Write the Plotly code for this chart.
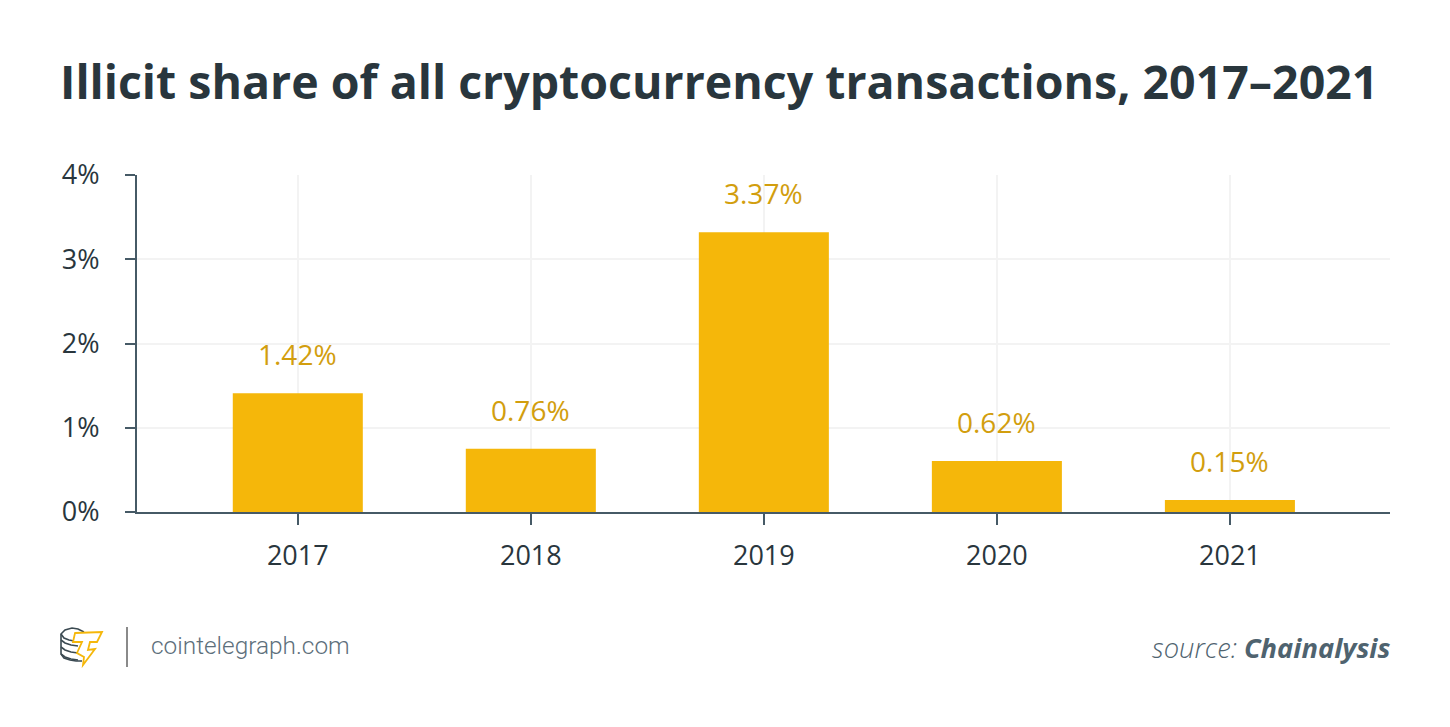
import plotly.graph_objects as go

years = [2017, 2018, 2019, 2020, 2021]
bar_values = [1.41, 0.75, 3.32, 0.605, 0.142]
bar_labels = ['1.42%', '0.76%', '3.37%', '0.62%', '0.15%']
y_ticks = [0, 1, 2, 3, 4]
y_tick_labels = ['0%', '1%', '2%', '3%', '4%']

W, H = 1450, 727
LEFT, RIGHT, TOP, BOTTOM = 137, 60, 175, 215
AXIS = '#465a66'
GRID = '#f3f3f3'
DARK = '#29363d'
GOLD = '#f5b70a'
LABEL = '#d29e0e'


# paper coordinates run over the plot area, so convert from page pixels
def px(x):
    return (x - LEFT) / (W - LEFT - RIGHT)


def py(y):
    return (H - BOTTOM - y) / (H - TOP - BOTTOM)


def path(points, close=False):
    # logo outline, given in page pixels
    s = 'M ' + ' L '.join(f'{px(x):.5f},{py(y):.5f}' for x, y in points)
    return s + (' Z' if close else '')


fig = go.Figure(go.Bar(
    x=years,
    y=bar_values,
    width=0.558,
    marker_color=GOLD,
    marker_line_width=0,
    hoverinfo='skip',
))

# value labels sit a fixed distance above each bar
for year, value, label in zip(years, bar_values, bar_labels):
    fig.add_annotation(x=year, y=value, text=label, showarrow=False,
                       yshift=39, yanchor='middle',
                       font=dict(family='Open Sans', size=28, color=LABEL))

# title and footer
fig.add_annotation(xref='paper', yref='paper', x=px(58), y=py(81), xanchor='left', yanchor='middle',
                   text='<b>Illicit share of all cryptocurrency transactions, 2017–2021</b>',
                   showarrow=False, font=dict(family='Open Sans', size=46.5, color=DARK))
fig.add_annotation(xref='paper', yref='paper', x=px(149), y=py(645), xanchor='left', yanchor='middle',
                   text='cointelegraph.com', showarrow=False,
                   font=dict(family='Roboto', size=24.4, weight=300, color='#5d6f7b'))
fig.add_annotation(xref='paper', yref='paper', x=px(1392), y=py(647), xanchor='right', yanchor='middle',
                   text='<i>source: </i><i><b>Chainalysis</b></i>', showarrow=False,
                   font=dict(family='Open Sans', size=27.3, weight=300, color='#4f636f'))

# logo: stack of coins and yellow T bolt, divider
shapes = [dict(type='line', xref='paper', yref='paper', x0=px(127), x1=px(127), y0=py(627), y1=py(667),
               line=dict(color='#8a8a8a', width=2))]
coin = dict(color='#3b4a52', width=1.6)
shapes.append(dict(type='path', xref='paper', yref='paper', line=coin,
                   path=path([(84, 632), (78, 629), (72, 628), (65, 630), (61, 634), (61, 654),
                              (64, 658), (70, 660), (76, 661), (82, 661)])))
shapes.append(dict(type='path', xref='paper', yref='paper', line=coin,
                   path=path([(61, 634), (64, 638), (69, 640), (74, 641)])))
for start, end in ((640, 646), (647, 653), (654, 660)):
    shapes.append(dict(type='path', xref='paper', yref='paper', line=coin,
                       path=path([(61, start), (65, start + 3), (71, end - 1), (78, end)])))
shapes.append(dict(type='path', xref='paper', yref='paper', fillcolor='white',
                   line=dict(color=GOLD, width=1.8),
                   path=path([(75, 633), (102, 632), (97, 642), (90, 642), (88, 650), (95, 649),
                              (83, 665), (84, 657), (77, 653), (82, 642), (73, 642)], close=True)))

fig.update_layout(
    width=W,
    height=H,
    autosize=False,
    margin=dict(l=LEFT, r=RIGHT, t=TOP, b=BOTTOM),
    paper_bgcolor='white',
    plot_bgcolor='white',
    showlegend=False,
    shapes=shapes,
    font=dict(family='Open Sans', size=27, color=DARK),
    xaxis=dict(
        range=[2016.31, 2021.687],
        tickvals=years,
        ticktext=[str(y) for y in years],
        showgrid=True,
        gridcolor=GRID,
        gridwidth=2,
        zeroline=False,
        showline=True,
        linecolor=AXIS,
        linewidth=2,
        ticks='outside',
        ticklen=11,
        tickwidth=2,
        tickcolor=AXIS,
        ticklabelstandoff=8,
        tickfont=dict(family='Open Sans', size=27, color=DARK),
    ),
    yaxis=dict(
        range=[0, 4],
        tickvals=y_ticks,
        ticktext=y_tick_labels,
        showgrid=True,
        gridcolor=GRID,
        gridwidth=2,
        zeroline=False,
        showline=True,
        linecolor=AXIS,
        linewidth=2,
        ticks='outside',
        ticklen=10,
        tickwidth=2,
        tickcolor=AXIS,
        ticklabelstandoff=20,
        tickfont=dict(family='Open Sans', size=27, color=DARK),
    ),
)

# the page's default body margin would shift the figure by 8px
fig.write_html('out.html', config={'displayModeBar': False},
               post_script="document.body.style.margin='0';")
